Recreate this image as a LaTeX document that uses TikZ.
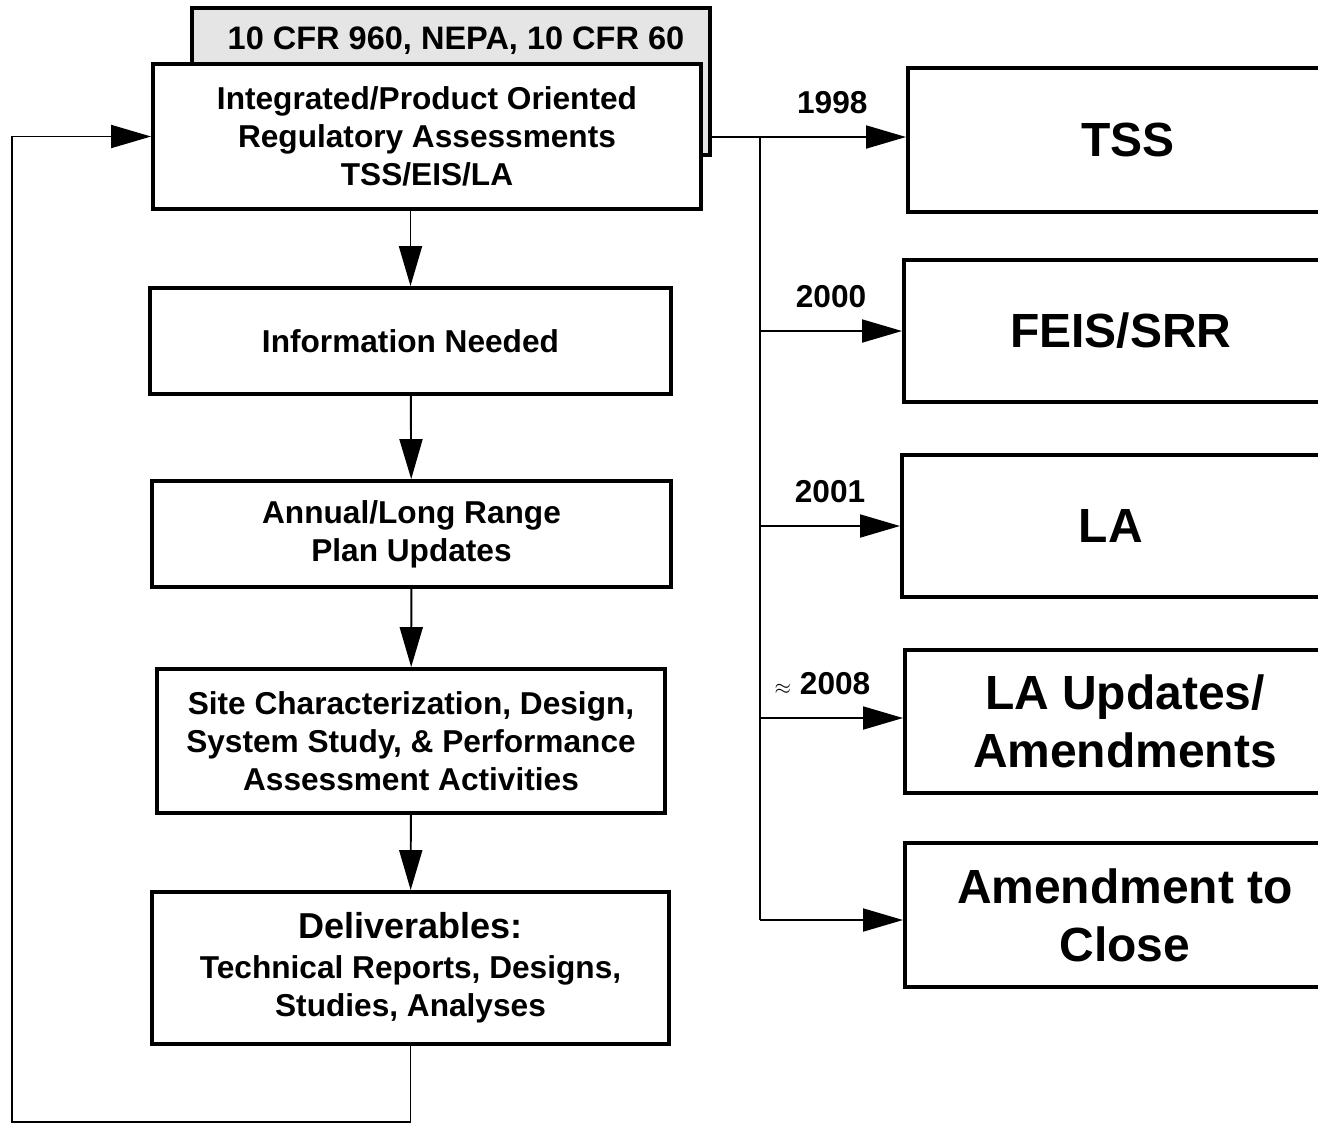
\documentclass[tikz,border=0pt]{standalone}
\usepackage{fontspec}
\setmainfont{Liberation Sans}
\usetikzlibrary{arrows.meta}
\begin{document}
\begin{tikzpicture}[x=0.2mm, y=-0.2mm, font=\bfseries, line join=miter,
	>={Triangle[length=8mm,width=4.6mm]},
	box/.style={draw, line width=2.2pt, fill=white, align=center, inner sep=0pt,
		font=\fontsize{18}{21.6}\bfseries\selectfont},
	bigbox/.style={draw, line width=2.2pt, fill=white, align=center, inner sep=0pt,
		anchor=west, minimum width=88mm, font=\fontsize{27.3}{33}\bfseries\selectfont},
	yr/.style={font=\fontsize{18}{20}\bfseries\selectfont, yshift=6.8mm},
	link/.style={line width=1.1pt}]
	\useasboundingbox (0,0) rectangle (1318,1125);
	\clip (0,0) rectangle (1318,1125);
	% regulations behind the first box
	\node[draw, line width=2.2pt, fill=black!10, minimum width=103.6mm, minimum height=29.4mm,
		inner sep=0pt] (regs) at (451,81.5) {};
	\node[font=\fontsize{18.5}{22}\bfseries\selectfont] (regtxt) at (456,41) {10 CFR 960, NEPA, 10 CFR 60};
	% left column
	\node[box, minimum width=109.6mm, minimum height=29mm] (assess) at (427,136.5)
		{Integrated/Product Oriented\\Regulatory Assessments\\TSS/EIS/LA};
	\node[box, minimum width=104.2mm, minimum height=21.2mm] (info) at (410.5,341) {Information Needed};
	\node[box, minimum width=103.8mm, minimum height=21.2mm] (plan) at (411.5,534)
		{Annual/Long Range\\Plan Updates};
	\node[box, minimum width=101.6mm, minimum height=28.8mm] (site) at (411,741)
		{Site Characterization, Design,\\System Study, \& Performance\\Assessment Activities};
	\node[box, minimum width=103.4mm, minimum height=30.4mm] (deliv) at (410.5,968)
		{{\fontsize{20.5}{24}\selectfont Deliverables:}\\[1pt]Technical Reports, Designs,\\Studies, Analyses};
	% right column
	\node[bigbox, minimum height=28.8mm] (tss) at (906,140) {TSS};
	\node[bigbox, minimum height=28.4mm] (feis) at (902,331) {FEIS/SRR\hspace*{1.2mm}};
	\node[bigbox, minimum height=28.4mm] (la) at (900,526) {LA\hspace*{4.5mm}};
	\node[bigbox, minimum height=28.6mm] (laup) at (903,721.5) {LA Updates/\\Amendments};
	\node[bigbox, minimum height=28.8mm] (close) at (903,915) {Amendment to\\Close};
	% down the left column
	\draw[link,->] (info.north |- assess.south) -- (info.north);
	\draw[link,->] (info) -- (plan);
	\draw[link,->] (plan) -- (site);
	\draw[link,->] (site) -- (deliv);
	% feedback
	\coordinate (loop) at (12,1122);
	\draw[link,->] (deliv.south) |- (loop) |- (assess.west);
	% branches to the products
	\coordinate (trunk) at (760,137);
	\draw[link,->] (regs.east |- trunk) -- (tss.west |- trunk) node[yr, pos=0.62] {1998};
	\draw[link] (trunk) -- (trunk |- 0,920);
	\draw[link,->] (trunk |- feis.west) -- (feis.west) node[yr, midway] {2000};
	\draw[link,->] (trunk |- la.west) -- (la.west) node[yr, midway] {2001};
	\draw[link,->] (trunk |- 0,718) -- (laup.west |- 0,718) node[yr, midway, xshift=-1.8mm] {{\fontsize{13}{14}\mdseries$\approx$} 2008};
	\draw[link,->] (trunk |- 0,920) -- (close.west |- 0,920);
\end{tikzpicture}
\end{document}
